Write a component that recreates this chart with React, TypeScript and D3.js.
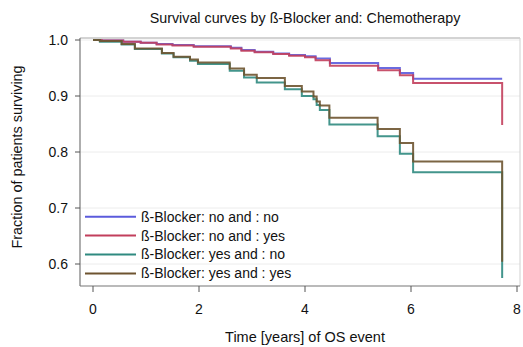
import React from "react";
import * as d3 from "d3";

const title = "Survival curves by ß-Blocker and: Chemotherapy";
const xLabel = "Time [years] of OS event";
const yLabel = "Fraction of patients surviving";
const xTicks = [0, 2, 4, 6, 8];
const yTicks = [0.6, 0.7, 0.8, 0.9, 1.0];
const seriesNames = [
  "ß-Blocker: no and : no",
  "ß-Blocker: no and : yes",
  "ß-Blocker: yes and : no",
  "ß-Blocker: yes and : yes",
];
const seriesColors = ["#5b5bdc", "#c23f5c", "#2f8a80", "#6e5430"];

const noNoT = [0, 0.16, 0.57, 0.9, 1.2, 1.5, 1.9, 2.6, 2.8, 3.05, 3.4, 3.7, 4.0, 4.2, 4.47, 5.38, 5.79, 6.04, 7.72];
const noNoS = [1.0, 0.999, 0.997, 0.995, 0.993, 0.991, 0.989, 0.986, 0.982, 0.979, 0.976, 0.973, 0.971, 0.967, 0.959, 0.95, 0.941, 0.931, 0.931];

const noYesT = [0, 0.16, 0.57, 0.9, 1.2, 1.5, 1.9, 2.6, 2.8, 3.05, 3.4, 3.7, 4.0, 4.2, 4.47, 5.38, 5.79, 6.04, 7.72];
const noYesS = [1.0, 0.999, 0.997, 0.995, 0.992, 0.99, 0.988, 0.985, 0.981, 0.978, 0.975, 0.972, 0.969, 0.964, 0.954, 0.946, 0.937, 0.923, 0.848];

const yesNoT = [0, 0.13, 0.54, 0.79, 1.3, 1.52, 1.83, 1.98, 2.58, 2.85, 3.09, 3.62, 3.94, 4.16, 4.22, 4.28, 4.46, 5.37, 5.79, 6.04, 7.72];
const yesNoS = [1.0, 0.997, 0.992, 0.984, 0.976, 0.969, 0.963, 0.957, 0.945, 0.933, 0.924, 0.912, 0.9, 0.894, 0.884, 0.875, 0.849, 0.828, 0.797, 0.764, 0.575];

const yesYesT = [0, 0.13, 0.54, 0.79, 1.3, 1.52, 1.83, 1.98, 2.58, 2.85, 3.09, 3.62, 3.94, 4.16, 4.22, 4.28, 4.46, 5.37, 5.79, 6.04, 7.72];
const yesYesS = [1.0, 0.998, 0.993, 0.985, 0.977, 0.97, 0.965, 0.96, 0.949, 0.938, 0.932, 0.918, 0.908, 0.899, 0.89, 0.883, 0.861, 0.841, 0.816, 0.783, 0.604];

const seriesT = [noNoT, noYesT, yesNoT, yesYesT];
const seriesS = [noNoS, noYesS, yesNoS, yesYesS];

const W = 523;
const H = 347;
const frame = { left: 80, right: 520, top: 38, bottom: 286 };
const font = "Liberation Sans, Arial, sans-serif";

export default function App() {
  const x = d3.scaleLinear().domain([0, 8]).range([93, 517]);
  const y = d3.scaleLinear().domain([0.6, 1.0]).range([264, 40]);
  const line = d3
    .line<[number, number]>()
    .x((d) => x(d[0]))
    .y((d) => y(d[1]))
    .curve(d3.curveStepAfter);

  return (
    <svg
      width={W}
      height={H}
      style={{ position: "absolute", left: 0, top: 0, background: "#fff" }}
      fontFamily={font}
    >
      <rect x={0} y={0} width={W} height={H} fill="#fff" />
      {yTicks.map((t) => (
        <line key={"g" + t} x1={frame.left} x2={frame.right} y1={y(t)} y2={y(t)} stroke="#ececec" strokeWidth={1} />
      ))}
      <line x1={frame.left} x2={frame.right} y1={frame.top} y2={frame.top} stroke="#a8a8a8" strokeWidth={1} />
      <line x1={frame.right} x2={frame.right} y1={frame.top} y2={frame.bottom} stroke="#d0d0d0" strokeWidth={1} />
      <line x1={frame.left} x2={frame.left} y1={frame.top} y2={frame.bottom} stroke="#777" strokeWidth={1.2} />
      <line x1={frame.left} x2={frame.right} y1={frame.bottom} y2={frame.bottom} stroke="#777" strokeWidth={1.2} />
      {yTicks.map((t) => (
        <g key={"y" + t}>
          <line x1={frame.left - 5} x2={frame.left} y1={y(t)} y2={y(t)} stroke="#555" />
          <text x={frame.left - 12} y={y(t)} dy="0.35em" textAnchor="end" fontSize={14} fill="#111">
            {t.toFixed(1)}
          </text>
        </g>
      ))}
      {xTicks.map((t) => (
        <g key={"x" + t}>
          <line x1={x(t)} x2={x(t)} y1={frame.bottom} y2={frame.bottom + 6} stroke="#555" />
          <text x={x(t)} y={314} textAnchor="middle" fontSize={14} fill="#111">
            {t}
          </text>
        </g>
      ))}
      {seriesT.map((ts, i) => {
        const pts = ts.map((t, j) => [t, seriesS[i][j]] as [number, number]);
        return (
          <path key={"s" + i} d={line(pts) || ""} fill="none" stroke={seriesColors[i]} strokeWidth={2} strokeOpacity={0.9} />
        );
      })}
      {seriesNames.map((n, i) => {
        const ly = 216.7 + i * 18.9;
        return (
          <g key={"l" + i}>
            <line x1={85} x2={136} y1={ly} y2={ly} stroke={seriesColors[i]} strokeWidth={2} />
            <text x={141} y={ly} dy="0.35em" fontSize={14} fill="#111">
              {n}
            </text>
          </g>
        );
      })}
      <text x={305} y={23} textAnchor="middle" fontSize={14.3} fill="#111">
        {title}
      </text>
      <text x={305} y={342} textAnchor="middle" fontSize={14.5} fill="#111">
        {xLabel}
      </text>
      <text transform={`translate(22, 157) rotate(-90)`} textAnchor="middle" fontSize={14.4} fill="#111">
        {yLabel}
      </text>
    </svg>
  );
}
